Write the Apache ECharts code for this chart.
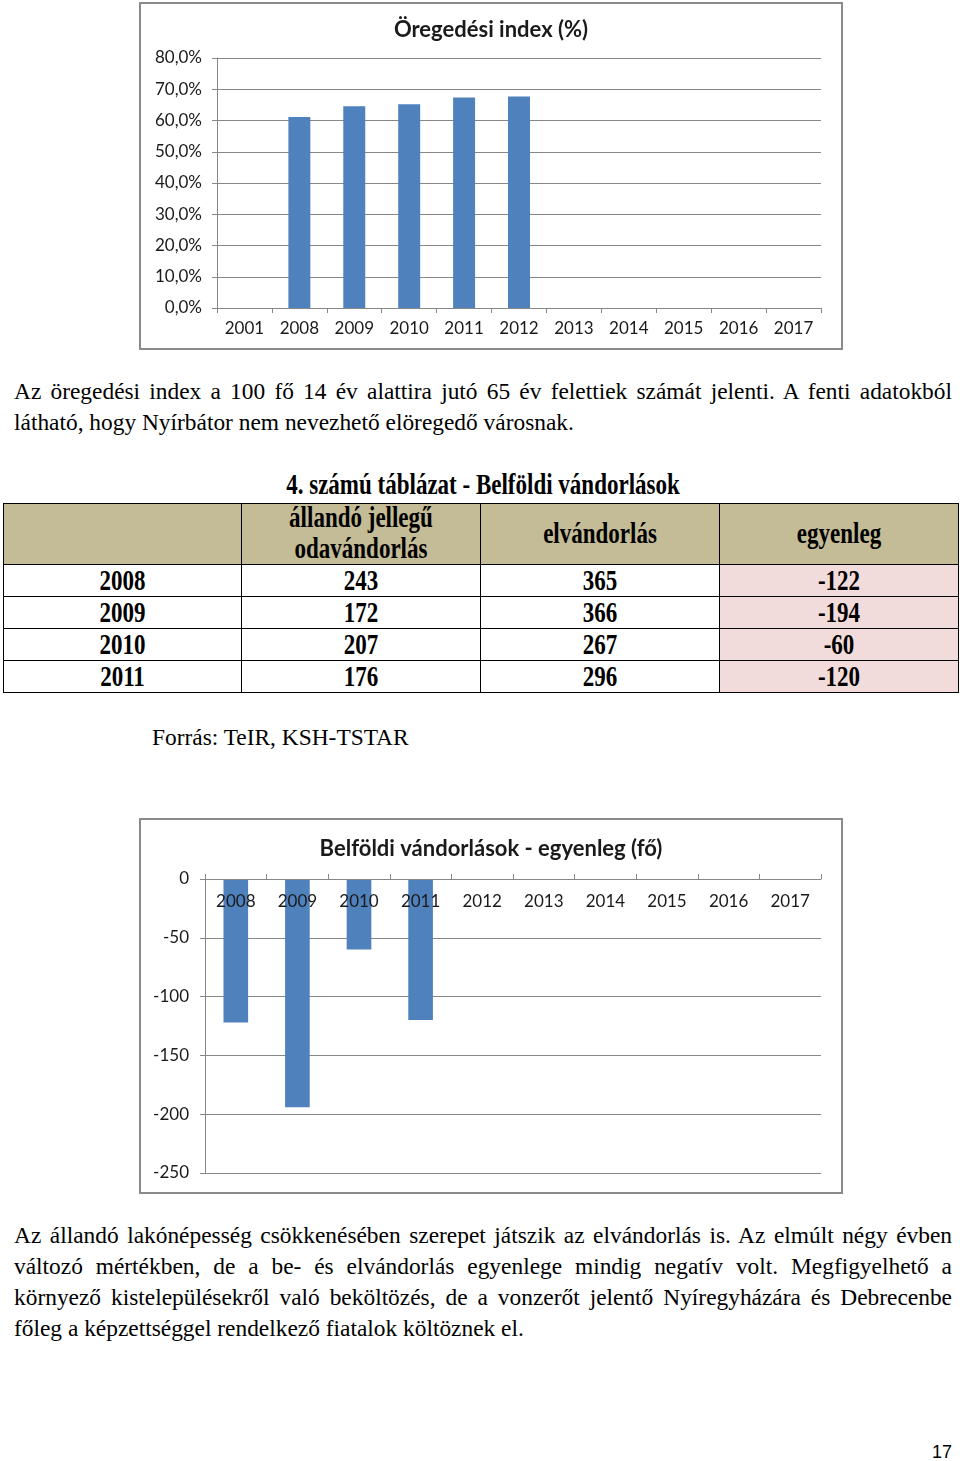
<!DOCTYPE html>
<html>
<head>
<meta charset="utf-8">
<script src="https://cdn.jsdelivr.net/npm/echarts@6/dist/echarts.min.js"></script>
<style>
  html, body { margin: 0; padding: 0; background: #fff; }
  body { width: 960px; height: 1461px; position: relative; overflow: hidden; font-family: "Liberation Serif", "Times New Roman", serif; color: #000; }
  .box { position: absolute; border: 2px solid #8a8a8a; box-sizing: border-box; background: #fff; }
  .chart { position: absolute; left: 0; top: 0; right: 0; bottom: 0; }
  .line { position: absolute; left: 14px; width: 938px; font-size: 23.4px; line-height: 31px; white-space: nowrap; }
  .just { text-align: justify; text-align-last: justify; white-space: normal; }
  table { position: absolute; left: 3px; top: 503px; width: 955px; border-collapse: collapse; table-layout: fixed; }
  td { border: 1px solid #000; text-align: center; padding: 0; font-weight: bold; font-size: 23px; }
  td.h { background: #c4bc96; height: 60px; }
  td.r { height: 31px; }
  td.p { background: #f2dcdb; }
  .st { display: inline-block; transform: scaleY(1.3); }
  .ttl { position: absolute; left: 0; width: 966px; text-align: center; top: 472px; font-weight: bold; font-size: 23px; }
  .pn { position: absolute; left: 932px; top: 1442px; font-family: "Liberation Sans", Arial, sans-serif; font-size: 18px; }
</style>
</head>
<body>

<div class="box" style="left:139px; top:2px; width:704px; height:348px;"><div id="c1" class="chart"></div></div>

<div class="line just" style="top:376px;">Az öregedési index a 100 fő 14 év alattira jutó 65 év felettiek számát jelenti. A fenti adatokból</div>
<div class="line" style="top:407px;">látható, hogy Nyírbátor nem nevezhető elöregedő városnak.</div>

<div class="ttl"><span class="st">4. számú táblázat - Belföldi vándorlások</span></div>
<table id="tbl"></table>

<div class="line" style="top:722px; left:152px;">Forrás: TeIR, KSH-TSTAR</div>

<div class="box" style="left:139px; top:818px; width:704px; height:376px;"><div id="c2" class="chart"></div></div>

<div class="line just" style="top:1220px;">Az állandó lakónépesség csökkenésében szerepet játszik az elvándorlás is. Az elmúlt négy évben</div>
<div class="line just" style="top:1251px;">változó mértékben, de a be- és elvándorlás egyenlege mindig negatív volt. Megfigyelhető a</div>
<div class="line just" style="top:1282px;">környező kistelepülésekről való beköltözés, de a vonzerőt jelentő Nyíregyházára és Debrecenbe</div>
<div class="line" style="top:1313px;">főleg a képzettséggel rendelkező fiatalok költöznek el.</div>

<div class="pn">17</div>

<script>
// ---- Chart 1 data: Öregedési index (%)
const ageYears = ['2001', '2008', '2009', '2010', '2011', '2012', '2013', '2014', '2015', '2016', '2017'];
const ageIndex = [null, 61.1, 64.6, 65.2, 67.4, 67.7, null, null, null, null, null];
const ageTicks = { min: 0, max: 80, interval: 10 };

// ---- Table data: Belföldi vándorlások
const tblHeader = ['', 'állandó jellegű<br>odavándorlás', 'elvándorlás', 'egyenleg'];
const migYears = ['2008', '2009', '2010', '2011'];
const inMig = [243, 172, 207, 176];
const outMig = [365, 366, 267, 296];
const balance = [-122, -194, -60, -120];

// ---- Chart 2 data: egyenleg (fő)
const balYears = ['2008', '2009', '2010', '2011', '2012', '2013', '2014', '2015', '2016', '2017'];
const balValues = [-122, -194, -60, -120, null, null, null, null, null, null];
const balTicks = { min: -250, max: 0, interval: 50 };

// build table
(function () {
  const t = document.getElementById('tbl');
  let html = '<colgroup><col style="width:238px"><col style="width:239px"><col style="width:239px"><col style="width:239px"></colgroup>';
  html += '<tr>' + tblHeader.map(function (h, i) {
    if (i === 1) {
      return '<td class="h"><div style="line-height:31px; margin-top:-3px;"><span class="st">állandó jellegű</span><br><span class="st">odavándorlás</span></div></td>';
    }
    return '<td class="h"><span class="st">' + h + '</span></td>';
  }).join('') + '</tr>';
  for (let i = 0; i < migYears.length; i++) {
    html += '<tr>' +
      '<td class="r"><span class="st">' + migYears[i] + '</span></td>' +
      '<td class="r"><span class="st">' + inMig[i] + '</span></td>' +
      '<td class="r"><span class="st">' + outMig[i] + '</span></td>' +
      '<td class="r p"><span class="st">' + balance[i] + '</span></td>' +
      '</tr>';
  }
  t.innerHTML = html;
})();

const FONT = 'Lato, "Open Sans", sans-serif';
const GRID_COLOR = '#878787';
const BAR_COLOR = '#4f81bd';

const c1 = echarts.init(document.getElementById('c1'), null, { renderer: 'canvas' });
c1.setOption({
  animation: false,
  title: {
    text: 'Öregedési index (%)', left: 'center', top: 10,
    textStyle: { fontFamily: FONT, fontSize: 22, fontWeight: 'bold', color: '#1a1a1a' }
  },
  grid: { left: 76, top: 54, right: 20, bottom: 40 },
  xAxis: {
    type: 'category', data: ageYears,
    axisLine: { lineStyle: { color: GRID_COLOR } },
    axisTick: { show: true, length: 5, lineStyle: { color: GRID_COLOR } },
    axisLabel: { fontFamily: FONT, fontSize: 17, color: '#1a1a1a', margin: 12, interval: 0 }
  },
  yAxis: {
    type: 'value', min: ageTicks.min, max: ageTicks.max, interval: ageTicks.interval,
    axisLine: { show: true, lineStyle: { color: GRID_COLOR } },
    axisTick: { show: true, length: 5, lineStyle: { color: GRID_COLOR } },
    splitLine: { lineStyle: { color: GRID_COLOR } },
    axisLabel: {
      fontFamily: FONT, fontSize: 17, color: '#1a1a1a', margin: 15,
      formatter: function (v) { return v.toFixed(1).replace('.', ',') + '%'; }
    }
  },
  series: [{
    type: 'bar', data: ageIndex, barWidth: '40%',
    itemStyle: { color: BAR_COLOR }
  }]
});

const c2 = echarts.init(document.getElementById('c2'), null, { renderer: 'canvas' });
c2.setOption({
  animation: false,
  title: {
    text: 'Belföldi vándorlások - egyenleg (fő)', left: 'center', top: 13,
    textStyle: { fontFamily: FONT, fontSize: 22, fontWeight: 'bold', color: '#1a1a1a' }
  },
  grid: { left: 64, top: 59, right: 20, bottom: 19 },
  xAxis: {
    type: 'category', data: balYears, z: 10, position: 'top',
    axisLine: { onZero: false, lineStyle: { color: GRID_COLOR } },
    axisTick: { show: true, length: 5, lineStyle: { color: GRID_COLOR } },
    axisLabel: { fontFamily: FONT, fontSize: 17, color: '#1a1a1a', margin: 14, interval: 0, inside: true }
  },
  yAxis: {
    type: 'value', min: balTicks.min, max: balTicks.max, interval: balTicks.interval,
    axisLine: { show: true, lineStyle: { color: GRID_COLOR } },
    axisTick: { show: true, length: 5, lineStyle: { color: GRID_COLOR } },
    splitLine: { lineStyle: { color: GRID_COLOR } },
    axisLabel: { fontFamily: FONT, fontSize: 17, color: '#1a1a1a', margin: 16 }
  },
  series: [{
    type: 'bar', data: balValues, barWidth: '40%',
    itemStyle: { color: BAR_COLOR }
  }]
});
</script>
</body>
</html>
